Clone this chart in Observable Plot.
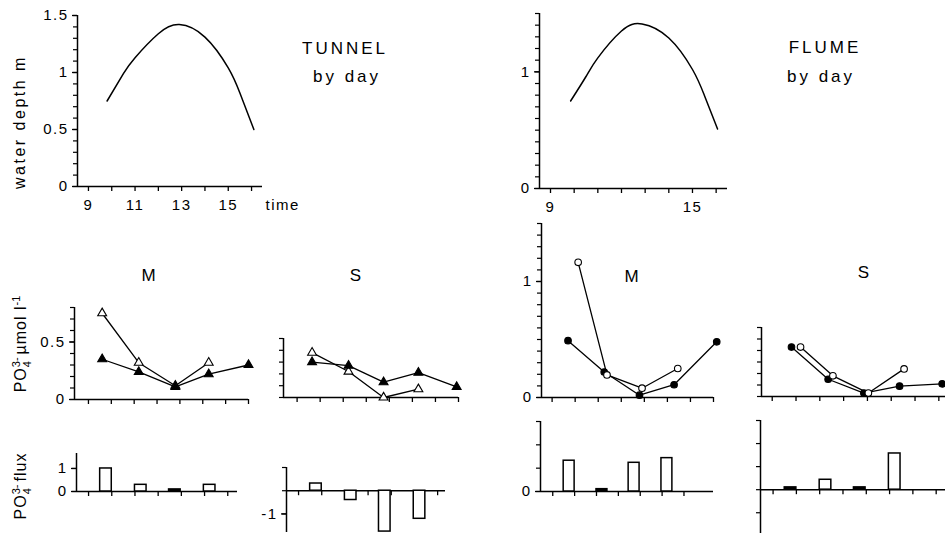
<!DOCTYPE html>
<html>
<head>
<meta charset="utf-8">
<script src="https://cdn.jsdelivr.net/npm/d3@7"></script>
<script src="https://cdn.jsdelivr.net/npm/@observablehq/plot@0.6"></script>
<style>
  body { margin: 0; background: #fff; }
  #chart { position: relative; width: 945px; height: 534px; overflow: hidden; background: #fff;
           font-family: "Liberation Sans", Arial, Helvetica, sans-serif; color: #000; }
  #chart svg { position: absolute; background: transparent; overflow: visible; }
  .lbl { position: absolute; white-space: nowrap; transform: translate(-50%, -50%);
         font-size: 16px; letter-spacing: 3px; line-height: 1; }
  .rot { transform: translate(-50%, -50%) rotate(-90deg); }
  .stack { display: inline-flex; flex-direction: column; vertical-align: middle; font-size: 11px;
           line-height: 1; letter-spacing: 0; margin-right: 3px; }
  sup.s { font-size: 11px; letter-spacing: 0; vertical-align: 0.6em; }
</style>
</head>
<body>
<div id="chart"></div>
<script>
// ---------------- data ----------------
// water depth (m) over time of day (h)
const tunnelDepthTime = [9.8, 10.5, 11.0, 12.0, 12.9, 14.0, 15.0, 15.5, 16.1];
const tunnelDepth     = [0.75, 0.99, 1.13, 1.34, 1.42, 1.31, 1.04, 0.82, 0.50];
const flumeDepthTime  = [9.85, 10.5, 11.0, 12.0, 12.87, 14.0, 15.0, 15.5, 16.06];
const flumeDepth      = [0.75, 0.96, 1.12, 1.35, 1.41, 1.29, 1.02, 0.80, 0.51];

// PO4 concentration (µmol l-1)
const tunnelMOpenTime   = [9.6, 11.2, 12.8, 14.26];
const tunnelMOpen       = [0.75, 0.32, 0.12, 0.32];
const tunnelMFilledTime = [9.6, 11.2, 12.8, 14.26, 16.0];
const tunnelMFilled     = [0.35, 0.24, 0.11, 0.22, 0.30];
const tunnelSOpenTime   = [9.65, 11.23, 12.75, 14.26];
const tunnelSOpen       = [0.38, 0.22, 0.0, 0.07];
const tunnelSFilledTime = [9.65, 11.23, 12.75, 14.26, 15.92];
const tunnelSFilled     = [0.30, 0.27, 0.13, 0.21, 0.09];
const flumeMOpenTime    = [10.13, 11.38, 12.9, 14.45];
const flumeMOpen        = [1.165, 0.195, 0.08, 0.25];
const flumeMFilledTime  = [9.69, 11.26, 12.79, 14.29, 16.14];
const flumeMFilled      = [0.49, 0.22, 0.02, 0.11, 0.48];
const flumeSOpenTime    = [10.19, 11.55, 13.04, 14.54];
const flumeSOpen        = [0.43, 0.18, 0.03, 0.24];
const flumeSFilledTime  = [9.81, 11.35, 12.85, 14.35, 16.14];
const flumeSFilled      = [0.43, 0.15, 0.03, 0.09, 0.11];

// PO4 flux (bars)
const fluxStart   = [9.5, 11.0, 12.47, 13.97];
const fluxWidth   = 0.5;
const tunnelMFlux = [1.0, 0.29, 0.09, 0.29];
const tunnelSFlux = [0.31, -0.40, -1.76, -1.21];
const flumeMFlux  = [1.32, 0.1, 1.23, 1.43];
const flumeSFlux  = [0.1, 0.43, 0.1, 1.57];

// tick values / labels
const hourTicks16 = [9, 10, 11, 12, 13, 14, 15, 16];
const hourTicks15 = [9, 10, 11, 12, 13, 14, 15];
const tunnelTimeLabels = [9, 11, 13, 15];
const flumeTimeLabels  = [9, 15];
const tenths = n => d3.range(0, n + 1).map(i => i / 10);

// ---------------- drawing ----------------
const FONT = '"Liberation Sans", Arial, Helvetica, sans-serif';
const chart = document.getElementById("chart");
const zip = (t, v) => t.map((x, i) => ({t: x, v: v[i]}));
const fmt = d => (d < 0 ? "-" : "") + String(Math.abs(d));

function panel(p, dataMarks) {
  const l = 60, r = 14, t = 10, b = 34;
  const width = p.right - p.left + l + r;
  const height = p.bottom - p.top + t + b;
  const x0 = p.xDomain[0];
  const marks = [
    Plot.ruleX([x0], {stroke: "black", strokeWidth: 1.5}),
    Plot.ruleY([0], {stroke: "black", strokeWidth: 1.5}),
    Plot.ruleX(p.xTicks, {x: d => d, y1: 0, y2: 0, insetBottom: -5, stroke: "black", strokeWidth: 1.3}),
    Plot.ruleY(p.yTicks, {y: d => d, x1: x0, x2: x0, insetLeft: -4, stroke: "black", strokeWidth: 1.2}),
    Plot.ruleY(p.yLabels || [], {y: d => d, x1: x0, x2: x0, insetLeft: -5, stroke: "black", strokeWidth: 1.3}),
    Plot.text(p.yLabels || [], {x: x0, y: d => d, text: fmt, textAnchor: "end", dx: -9, fontSize: 15}),
    ...dataMarks
  ];
  if (p.xLabels) marks.push(Plot.text(p.xLabels, {x: d => d, y: 0, dy: 19, text: d => String(d), fontSize: 15}));
  if (p.xTitle) marks.push(Plot.text([p.xTitle], {x: p.xDomain[1], y: 0, dy: 19, dx: 3, text: d => d, textAnchor: "start", fontSize: 15}));
  const svg = Plot.plot({
    width, height,
    marginLeft: l, marginRight: r, marginTop: t, marginBottom: b,
    x: {domain: p.xDomain, axis: null},
    y: {domain: p.yDomain, axis: null},
    style: {background: "transparent", overflow: "visible", fontFamily: FONT, color: "black", letterSpacing: "1.5px"},
    marks
  });
  svg.style.left = (p.left - l) + "px";
  svg.style.top = (p.top - t) + "px";
  chart.appendChild(svg);
}

const depthLine = (t, v) => Plot.line(zip(t, v), {x: "t", y: "v", curve: "natural", stroke: "black", strokeWidth: 1.5});
const seriesLine = (t, v) => Plot.line(zip(t, v), {x: "t", y: "v", stroke: "black", strokeWidth: 1.3});
const seriesDots = (t, v, symbol, fill) => Plot.dot(zip(t, v), {x: "t", y: "v", symbol, r: 3.3, fill, stroke: "black", strokeWidth: 1.1});
const fluxBars = v => Plot.rect(zip(fluxStart, v), {x1: "t", x2: d => d.t + fluxWidth, y1: 0, y2: "v",
  fill: d => Math.abs(d.v) < 0.15 ? "black" : "white", stroke: "black", strokeWidth: 1.5});

// top row: water depth
panel({left: 77, right: 262, top: 15, bottom: 186, xDomain: [8.53, 16.47], yDomain: [0, 1.5],
       xTicks: hourTicks16, yTicks: tenths(15), yLabels: [0, 0.5, 1, 1.5], xLabels: tunnelTimeLabels, xTitle: "time"},
      [depthLine(tunnelDepthTime, tunnelDepth)]);
panel({left: 539, right: 727, top: 13, bottom: 188, xDomain: [8.535, 16.48], yDomain: [0, 1.5],
       xTicks: hourTicks16, yTicks: tenths(15), yLabels: [0, 1], xLabels: flumeTimeLabels},
      [depthLine(flumeDepthTime, flumeDepth)]);

// middle row: PO4 concentration
panel({left: 74, right: 248, top: 307, bottom: 399, xDomain: [8.39, 16.0], yDomain: [0, 0.8],
       xTicks: hourTicks16, yTicks: tenths(8), yLabels: [0, 0.5]},
      [seriesLine(tunnelMOpenTime, tunnelMOpen), seriesLine(tunnelMFilledTime, tunnelMFilled),
       seriesDots(tunnelMOpenTime, tunnelMOpen, "triangle", "white"),
       seriesDots(tunnelMFilledTime, tunnelMFilled, "triangle", "black")]);
panel({left: 283, right: 458, top: 338, bottom: 397, xDomain: [8.41, 16.0], yDomain: [0, 0.5],
       xTicks: hourTicks16, yTicks: tenths(5)},
      [seriesLine(tunnelSOpenTime, tunnelSOpen), seriesLine(tunnelSFilledTime, tunnelSFilled),
       seriesDots(tunnelSOpenTime, tunnelSOpen, "triangle", "white"),
       seriesDots(tunnelSFilledTime, tunnelSFilled, "triangle", "black")]);
panel({left: 541, right: 713, top: 223, bottom: 397, xDomain: [8.54, 16.0], yDomain: [0, 1.5],
       xTicks: hourTicks16, yTicks: tenths(15), yLabels: [0, 1]},
      [seriesLine(flumeMOpenTime, flumeMOpen), seriesLine(flumeMFilledTime, flumeMFilled),
       seriesDots(flumeMFilledTime, flumeMFilled, "circle", "black"),
       seriesDots(flumeMOpenTime, flumeMOpen, "circle", "white")]);
panel({left: 761, right: 945, top: 327, bottom: 396, xDomain: [8.55, 16.28], yDomain: [0, 0.6],
       xTicks: hourTicks16, yTicks: tenths(6)},
      [seriesLine(flumeSOpenTime, flumeSOpen), seriesLine(flumeSFilledTime, flumeSFilled),
       seriesDots(flumeSFilledTime, flumeSFilled, "circle", "black"),
       seriesDots(flumeSOpenTime, flumeSOpen, "circle", "white")]);

// bottom row: PO4 flux
panel({left: 76, right: 237, top: 453, bottom: 491, xDomain: [8.48, 15.42], yDomain: [0, 1.65],
       xTicks: hourTicks15, yTicks: [0, 1], yLabels: [0, 1]},
      [fluxBars(tunnelMFlux)]);
panel({left: 286, right: 445, top: 467, bottom: 532, xDomain: [8.48, 15.34], yDomain: [-1.8, 1.0],
       xTicks: hourTicks15, yTicks: [-1, 0, 1], yLabels: [-1]},
      [fluxBars(tunnelSFlux)]);
panel({left: 540, right: 713, top: 421, bottom: 491, xDomain: [8.44, 16.35], yDomain: [0, 3],
       xTicks: hourTicks15, yTicks: [0, 1, 2, 3], yLabels: [0]},
      [fluxBars(flumeMFlux)]);
panel({left: 760, right: 945, top: 420, bottom: 533, xDomain: [8.46, 16.4], yDomain: [-1.9, 3],
       xTicks: hourTicks16, yTicks: [-1, 0, 1, 2, 3]},
      [fluxBars(flumeSFlux)]);

// ---------------- text labels ----------------
function label(html, x, y, extra = "", cls = "lbl") {
  const d = document.createElement("div");
  d.className = cls;
  d.innerHTML = html;
  d.style.left = x + "px";
  d.style.top = y + "px";
  if (extra) d.style.cssText += extra;
  chart.appendChild(d);
}
label("water depth m", 20, 122, "letter-spacing:2.5px;", "lbl rot");
label("TUNNEL", 345, 48, "font-size:17px;");
label("by day", 347, 76, "font-size:17px;");
label("FLUME", 825, 47, "font-size:17px;");
label("by day", 821, 76, "font-size:17px;");
label("M", 150, 275, "font-size:17px;");
label("S", 357, 275, "font-size:17px;");
label("M", 633, 276, "font-size:17px;");
label("S", 865, 272, "font-size:17px;");
label('PO<span class="stack"><span>3-</span><span>4</span></span>µmol l<sup class="s">-1</sup>', 22, 344, "letter-spacing:1px;", "lbl rot");
label('PO<span class="stack"><span>3-</span><span>4</span></span>flux', 22, 486, "letter-spacing:1px;", "lbl rot");
</script>
</body>
</html>
